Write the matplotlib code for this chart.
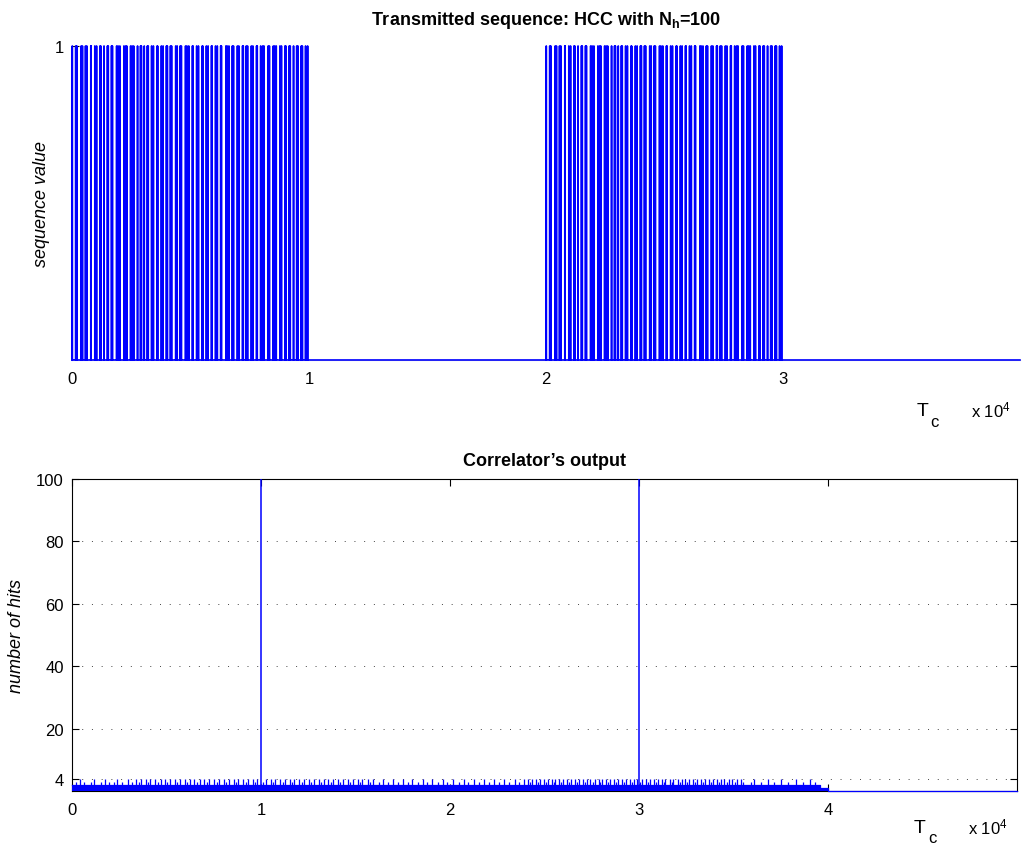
import numpy as np
import matplotlib
matplotlib.use("Agg")
import matplotlib.pyplot as plt

# ---------------- data ----------------
# chip positions (in Tc) of the 100 pulses of one HCC frame set, N_h = 100
pulse_pos = [12, 157, 203, 388, 441, 570, 625, 794, 808, 963,
             1036, 1179, 1215, 1352, 1497, 1530, 1668, 1705, 1884, 1946,
             2021, 2190, 2259, 2311, 2474, 2538, 2602, 2766, 2893, 2927,
             3049, 3181, 3217, 3360, 3434, 3599, 3609, 3772, 3844, 3986,
             4023, 4155, 4201, 4377, 4439, 4565, 4614, 4791, 4850, 4928,
             5083, 5106, 5261, 5335, 5496, 5519, 5671, 5743, 5887, 5910,
             6058, 6131, 6275, 6304, 6492, 6547, 6622, 6767, 6813, 6980,
             7040, 7198, 7226, 7353, 7407, 7569, 7633, 7789, 7816, 7962,
             8045, 8100, 8278, 8329, 8495, 8554, 8618, 8773, 8837, 8985,
             9024, 9164, 9209, 9348, 9482, 9532, 9676, 9720, 9856, 9942]
# start of each transmitted copy of the sequence
block_start = [0, 20000]
seq_length = 40000

# correlator output: noise floor (step levels), sporadic hits, and the two peaks
floor_x = [0, 39600, 40000, 50000]
floor_y = [2, 1, 0, 0]
hits4_pos = [420, 1180, 1750, 2380, 2950, 3400,
             3640, 3910, 4120, 4390, 4700, 4930, 5160, 5470, 5690, 5980, 6240, 6460,
             6770, 7010, 7260, 7530, 7780, 8020, 8310, 8550, 8760, 9040, 9310, 9560,
             9790, 10240, 10510, 10730, 11010, 11290, 11520, 11770, 12030, 12280,
             12560, 12790, 13050, 13320, 13560, 13820, 14080, 14330, 14590, 14850,
             15120, 15370, 15640, 15910,
             16450, 16980, 17520, 18010, 18560, 19070, 19620, 20180, 20730, 21260,
             21810, 22350, 22880, 23420, 23900,
             24130, 24350, 24540, 24760, 24950, 25170, 25380, 25560, 25790, 25980,
             26200, 26410, 26600, 26830, 27020, 27240, 27430, 27650, 27860, 28050,
             28270, 28460, 28690, 28880, 29090, 29310, 29500, 29720, 29910, 30180,
             30370, 30590, 30780, 31000, 31210, 31400, 31630, 31820, 32040, 32250,
             32440, 32670, 32860, 33080, 33290, 33480, 33710, 33900, 34120, 34330,
             34520, 34750, 34940, 35160, 35370,
             36100, 36850, 37500, 38300, 39050]
hits4_val = 4
hits3_pos = [230, 640, 980, 1520, 1960, 2230, 2650, 3180, 3560, 4010, 4560, 5050,
             5580, 6110, 6590, 7140, 7650, 8170, 8660, 9200, 9680, 10120, 10620,
             11150, 11640, 12160, 12670, 13190, 13700, 14200, 14720, 15250, 15760,
             16230, 16720, 17260, 17770, 18290, 18790, 19340, 19850, 20460, 20960,
             21520, 22060, 22610, 23130, 23660, 24240, 24660, 25070, 25480, 25890,
             26310, 26720, 27130, 27550, 27960, 28370, 28780, 29200, 29610, 30050,
             30480, 30900, 31310, 31720, 32150, 32560, 32970, 33390, 33800, 34230,
             34640, 35060, 35480, 35900, 36480, 37150, 37870, 38650, 39300]
hits3_val = 3
peak_pos = [10000, 30000]
peak_val = [100, 100]

top_xticks = [0, 10000, 20000, 30000]
top_xticklabels = ["0", "1", "2", "3"]
bot_xticks = [0, 10000, 20000, 30000, 40000]
bot_xticklabels = ["0", "1", "2", "3", "4"]
bot_yticks = [4, 20, 40, 60, 80, 100]

# ---------------- style ----------------
plt.rcParams["font.family"] = ["Liberation Sans", "DejaVu Sans"]
plt.rcParams["mathtext.fontset"] = "custom"
plt.rcParams["mathtext.rm"] = "Liberation Sans"
plt.rcParams["mathtext.it"] = "Liberation Sans:italic"
plt.rcParams["mathtext.bf"] = "Liberation Sans:bold"
plt.rcParams["path.simplify"] = False

BLUE = "#0000ff"
FS = 12

fig = plt.figure(figsize=(10.24, 8.54), dpi=100)


def unit_label(ax, y):
    """Write the 'T_c   x 10^4' unit annotation under an axis."""
    ax.text(0.897, y, "T", transform=ax.transAxes, fontsize=14,
            ha="center", va="baseline")
    ax.text(0.910, y - 0.035, "c", transform=ax.transAxes, fontsize=12,
            ha="center", va="baseline")
    ax.text(0.99, y - 0.005, r"x 10$^{4}$", transform=ax.transAxes,
            fontsize=12, ha="right", va="baseline")


# ---------------- transmitted sequence ----------------
ax1 = fig.add_axes([0.0703, 0.5773, 0.9258, 0.3677])
seq = np.zeros(seq_length)
for b in block_start:
    seq[np.asarray(pulse_pos) + b] = 1
ax1.plot(np.arange(seq_length), seq, color=BLUE, lw=1.2, clip_on=False, zorder=3)
ax1.set_xlim(0, seq_length)
ax1.set_ylim(0, 1)
ax1.set_xticks(top_xticks)
ax1.set_xticklabels(top_xticklabels)
ax1.set_yticks([1])
ax1.set_yticklabels(["1"])
ax1.tick_params(axis="both", direction="in", labelsize=FS, length=0, pad=8)
ax1.tick_params(axis="y", length=5, width=0.8, pad=6)
for s in ["top", "right"]:
    ax1.spines[s].set_visible(False)
for s in ["left", "bottom"]:
    ax1.spines[s].set_color("#c8c8c8")
    ax1.spines[s].set_linewidth(0.8)
ax1.set_title(r"Transmitted sequence: HCC with N$_{\mathbf{h}}$=100",
              fontsize=13, fontweight="bold", pad=16)
ax1.set_ylabel("sequence value", fontsize=13, style="italic", labelpad=3)
unit_label(ax1, -0.175)

# ---------------- correlator output ----------------
ax2 = fig.add_axes([0.0703, 0.0726, 0.9229, 0.3653])
ax2.fill_between(floor_x, 0, floor_y, step="post", color=BLUE, lw=0, zorder=3)
ax2.step(floor_x, floor_y, where="post", color=BLUE, lw=0.9, clip_on=False, zorder=3)
ax2.vlines(hits3_pos, 0, hits3_val, color=BLUE, lw=0.9, zorder=3)
ax2.vlines(hits4_pos, 0, hits4_val, color=BLUE, lw=0.9, zorder=3)
ax2.vlines(peak_pos, 0, peak_val, color=BLUE, lw=1.1, zorder=3)
ax2.set_xlim(0, 50000)
ax2.set_ylim(0, 100)
ax2.set_xticks(bot_xticks)
ax2.set_xticklabels(bot_xticklabels)
ax2.set_yticks(bot_yticks)
ax2.tick_params(axis="both", direction="in", labelsize=FS, length=5, width=0.8,
                top=True, right=True)
ax2.tick_params(axis="x", pad=8)
ax2.tick_params(axis="y", pad=6)
for s in ax2.spines.values():
    s.set_linewidth(0.8)
for yv in bot_yticks[:-1]:
    ax2.axhline(yv, color="#444444", lw=0.7, ls=(0, (1, 9)), zorder=0.5)
ax2.set_title("Correlator\u2019s output", fontsize=13, fontweight="bold", pad=10)
ax2.set_ylabel("number of hits", fontsize=13, style="italic", labelpad=8)
unit_label(ax2, -0.13)

fig.savefig("out.png", dpi=100)
